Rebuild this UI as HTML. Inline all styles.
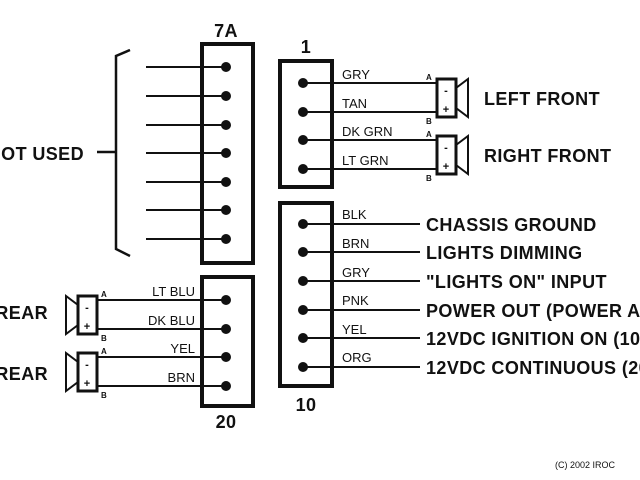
<!DOCTYPE html>
<html><head><style>body{margin:0;background:#fff}svg{display:block}text{font-family:"Liberation Sans",Arial,sans-serif;fill:#111}</style></head><body>
<svg width="640" height="480" viewBox="0 0 640 480" xmlns="http://www.w3.org/2000/svg">
<g stroke="#111" fill="none">
<rect x="202" y="44" width="51" height="219" stroke-width="4"/>
<rect x="202" y="277" width="51" height="129" stroke-width="4"/>
<rect x="280" y="61" width="52" height="126" stroke-width="4"/>
<rect x="280" y="203" width="52" height="183" stroke-width="4"/>
<path d="M130 50 L116 56 L116 249 L130 256" stroke-width="2.5"/>
<line x1="97" y1="152" x2="116" y2="152" stroke-width="2.5"/>
<g stroke-width="2">
<line x1="146" y1="67" x2="226" y2="67"/><line x1="146" y1="96" x2="226" y2="96"/>
<line x1="146" y1="125" x2="226" y2="125"/><line x1="146" y1="153" x2="226" y2="153"/>
<line x1="146" y1="182" x2="226" y2="182"/><line x1="146" y1="210" x2="226" y2="210"/>
<line x1="146" y1="239" x2="226" y2="239"/>
<line x1="98" y1="300" x2="226" y2="300"/><line x1="98" y1="329" x2="226" y2="329"/>
<line x1="98" y1="357" x2="226" y2="357"/><line x1="98" y1="386" x2="226" y2="386"/>
<line x1="303" y1="83" x2="436" y2="83"/><line x1="303" y1="112" x2="436" y2="112"/>
<line x1="303" y1="140" x2="436" y2="140"/><line x1="303" y1="169" x2="436" y2="169"/>
<line x1="303" y1="224" x2="420" y2="224"/><line x1="303" y1="252" x2="420" y2="252"/>
<line x1="303" y1="281" x2="420" y2="281"/><line x1="303" y1="310" x2="420" y2="310"/>
<line x1="303" y1="338" x2="420" y2="338"/><line x1="303" y1="367" x2="420" y2="367"/>
</g>
<rect x="437" y="79" width="19" height="38" stroke-width="3"/>
<path d="M456 88 L468 79 L468 117 L456 108" stroke-width="2"/>
<rect x="437" y="136" width="19" height="38" stroke-width="3"/>
<path d="M456 145 L468 136 L468 174 L456 165" stroke-width="2"/>
<rect x="78" y="296" width="19" height="38" stroke-width="3"/>
<path d="M78 305 L66 296 L66 334 L78 325" stroke-width="2"/>
<rect x="78" y="353" width="19" height="38" stroke-width="3"/>
<path d="M78 362 L66 353 L66 391 L78 382" stroke-width="2"/>
</g>
<g fill="#111">
<circle cx="226" cy="67" r="5"/><circle cx="226" cy="96" r="5"/><circle cx="226" cy="125" r="5"/><circle cx="226" cy="153" r="5"/><circle cx="226" cy="182" r="5"/><circle cx="226" cy="210" r="5"/><circle cx="226" cy="239" r="5"/>
<circle cx="226" cy="300" r="5"/><circle cx="226" cy="329" r="5"/><circle cx="226" cy="357" r="5"/><circle cx="226" cy="386" r="5"/>
<circle cx="303" cy="83" r="5"/><circle cx="303" cy="112" r="5"/><circle cx="303" cy="140" r="5"/><circle cx="303" cy="169" r="5"/>
<circle cx="303" cy="224" r="5"/><circle cx="303" cy="252" r="5"/><circle cx="303" cy="281" r="5"/><circle cx="303" cy="310" r="5"/><circle cx="303" cy="338" r="5"/><circle cx="303" cy="367" r="5"/>
</g>
<g font-weight="bold" font-size="18" letter-spacing="0.4">
<text x="226" y="37" text-anchor="middle">7A</text>
<text x="306" y="53" text-anchor="middle">1</text>
<text x="226" y="428" text-anchor="middle">20</text>
<text x="306" y="411" text-anchor="middle">10</text>
<text x="84" y="160" text-anchor="end">NOT USED</text>
<text x="48" y="319" text-anchor="end">REAR</text>
<text x="48" y="380" text-anchor="end">REAR</text>
<text x="484" y="105">LEFT FRONT</text>
<text x="484" y="162">RIGHT FRONT</text>
<text x="426" y="231">CHASSIS GROUND</text>
<text x="426" y="259">LIGHTS DIMMING</text>
<text x="426" y="288">"LIGHTS ON" INPUT</text>
<text x="426" y="317">POWER OUT (POWER ANTENNA)</text>
<text x="426" y="345">12VDC IGNITION ON (10A)</text>
<text x="426" y="374">12VDC CONTINUOUS (20A)</text>
</g>
<g font-size="13">
<text x="342" y="79">GRY</text><text x="342" y="108">TAN</text><text x="342" y="136">DK GRN</text><text x="342" y="165">LT GRN</text>
<text x="342" y="219">BLK</text><text x="342" y="248">BRN</text><text x="342" y="277">GRY</text><text x="342" y="305">PNK</text><text x="342" y="334">YEL</text><text x="342" y="362">ORG</text>
<text x="195" y="296" text-anchor="end">LT BLU</text><text x="195" y="325" text-anchor="end">DK BLU</text><text x="195" y="353" text-anchor="end">YEL</text><text x="195" y="382" text-anchor="end">BRN</text>
</g>
<g font-size="8" font-weight="bold">
<text x="426" y="80">A</text><text x="426" y="124">B</text><text x="426" y="137">A</text><text x="426" y="181">B</text>
<text x="101" y="297">A</text><text x="101" y="341">B</text><text x="101" y="354">A</text><text x="101" y="398">B</text>
</g>
<g font-size="11" font-weight="bold">
<text x="446" y="94" text-anchor="middle">-</text><text x="446" y="113" text-anchor="middle">+</text>
<text x="446" y="151" text-anchor="middle">-</text><text x="446" y="170" text-anchor="middle">+</text>
<text x="87" y="311" text-anchor="middle">-</text><text x="87" y="330" text-anchor="middle">+</text>
<text x="87" y="368" text-anchor="middle">-</text><text x="87" y="387" text-anchor="middle">+</text>
</g>
<text x="555" y="468" font-size="9">(C) 2002 IROC</text>
</svg>
</body></html>
